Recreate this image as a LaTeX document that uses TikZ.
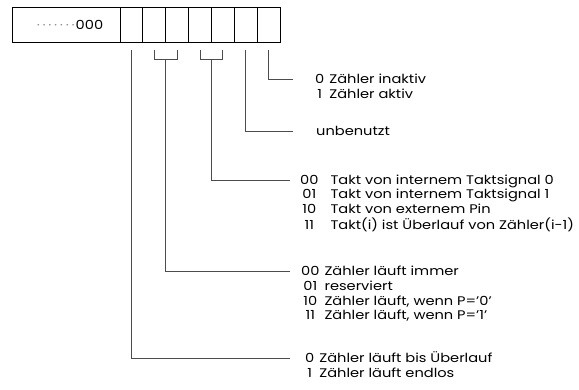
\documentclass[tikz,border=0pt]{standalone}
\usepackage{fontspec}
\setmainfont{Poppins}[FakeStretch=1.17]
\usetikzlibrary{positioning}

\tikzset{
  cell/.style={draw, line width=0.9pt, minimum width=22.86pt, minimum height=35pt,
    inner sep=0pt, outer sep=0pt},
  lead/.style={draw=black!70, line width=0.8pt},
  desc/.style={anchor=mid west, inner sep=0pt, yshift=-1.5pt, font=\fontsize{12.5}{14.7}\selectfont}
}
\newcommand{\regdot}{\textperiodcentered\kern2.7pt}

\begin{document}
\begin{tikzpicture}[x=1pt,y=-1pt]
  \useasboundingbox (0,0) rectangle (579,389);
  % register
  \node[cell, minimum width=108pt, font=\fontsize{12.5}{14}\selectfont] (reg) at (66,25)
    {\hspace*{8pt}{\color{black!45}\regdot\regdot\regdot\regdot\regdot\regdot\textperiodcentered}\kern1pt 000};
  \node[cell, right=0pt of reg] (c1) {};
  \node[cell, right=0pt of c1] (c2) {};
  \node[cell, right=0pt of c2] (c3) {};
  \node[cell, right=0pt of c3] (c4) {};
  \node[cell, right=0pt of c4] (c5) {};
  \node[cell, right=0pt of c5] (c6) {};
  \node[cell, right=0pt of c6] (c7) {};
  % leader ends
  \coordinate (e1) at (293,79.5);
  \coordinate (e2) at (293,131.5);
  \coordinate (e3) at (290,180);
  \coordinate (e4) at (290,271.5);
  \coordinate (e5) at (290,358.5);
  % descriptions
  \node[desc, xshift=22pt] (g1) at (e1)
    {\begin{tabular}[t]{@{}c@{\hspace{5pt}}l@{}}0 & Zähler inaktiv\\ 1 & Zähler aktiv\end{tabular}};
  \node[desc, xshift=23pt] (g2) at (e2) {unbenutzt};
  \node[desc, xshift=10pt] (g3) at (e3)
    {\begin{tabular}[t]{@{}c@{\hspace{12pt}}l@{}}00 & Takt von internem Taktsignal 0\\ 01 & Takt von internem Taktsignal 1\\
      10 & Takt von externem Pin\\ 11 & Takt(i) ist Überlauf von Zähler(i-1)\end{tabular}};
  \node[desc, xshift=11pt] (g4) at (e4)
    {\begin{tabular}[t]{@{}c@{\hspace{5pt}}l@{}}00 & Zähler läuft immer\\ 01 & reserviert\\
      10 & Zähler läuft, wenn P='0'\\ 11 & Zähler läuft, wenn P='1'\end{tabular}};
  \node[desc, xshift=15pt] (g5) at (e5)
    {\begin{tabular}[t]{@{}c@{\hspace{5pt}}l@{}}0 & Zähler läuft bis Überlauf\\ 1 & Zähler läuft endlos\end{tabular}};
  % leaders
  \draw[lead] ([yshift=-7pt]c7.south) |- (e1);
  \draw[lead] ([yshift=-7pt]c6.south) |- (e2);
  \draw[lead] ([yshift=-7pt]c4.south) |- ([yshift=-17pt]c4.south east) -| ([yshift=-7pt]c5.south);
  \draw[lead] ([yshift=-17pt]c4.south east) |- (e3);
  \draw[lead] ([yshift=-7pt]c2.south) |- ([yshift=-17pt]c2.south east) -| ([yshift=-7pt]c3.south);
  \draw[lead] ([yshift=-17pt]c2.south east) |- (e4);
  \draw[lead] ([yshift=-7pt]c1.south) |- (e5);
\end{tikzpicture}
\end{document}
